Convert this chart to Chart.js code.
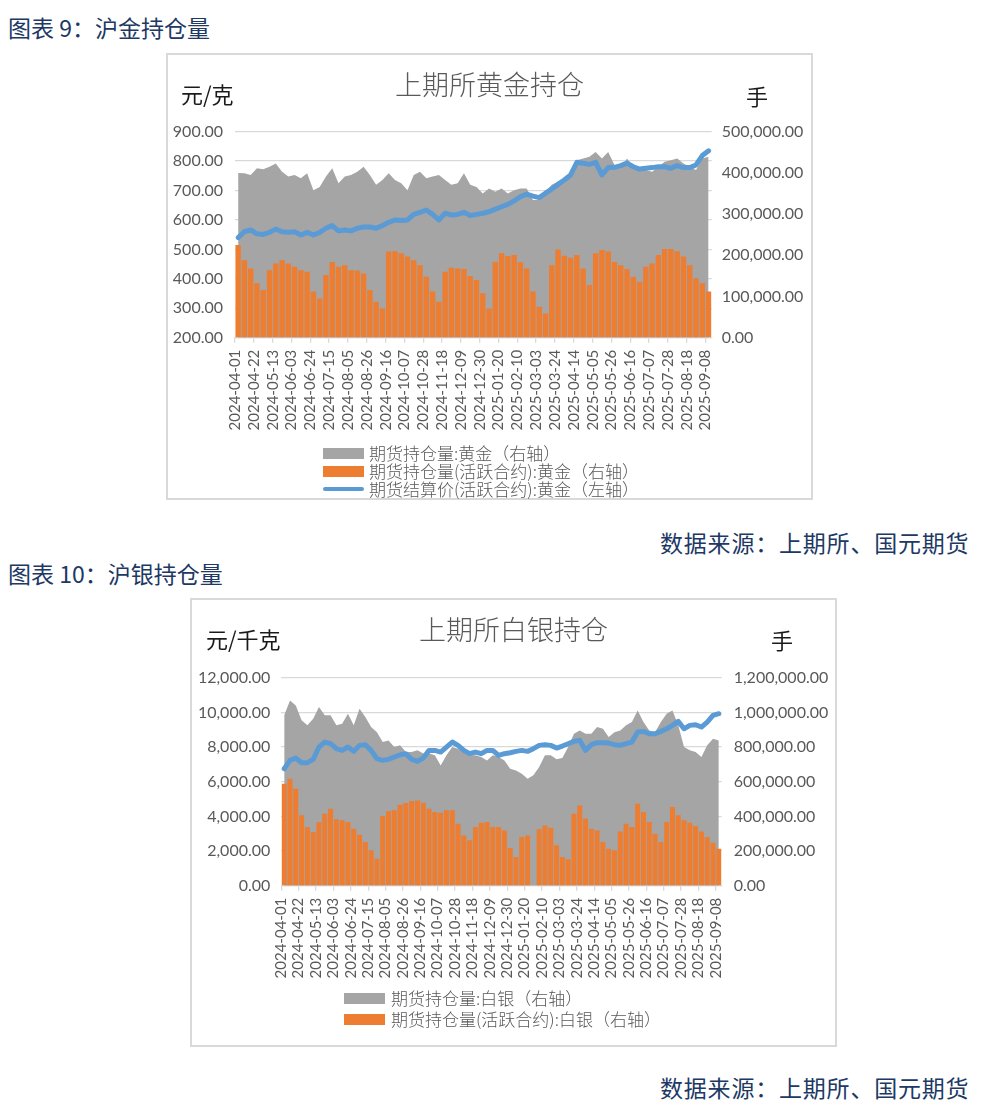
<!DOCTYPE html>
<html lang="zh-CN">
<head>
<meta charset="utf-8">
<title>上期所黄金持仓 / 上期所白银持仓</title>
<script src="https://cdn.jsdelivr.net/npm/chart.js@4.4.1/dist/chart.umd.min.js"></script>
<style>
  html, body { margin: 0; padding: 0; background: #ffffff; }
  body { position: relative; width: 981px; height: 1112px; overflow: hidden; font-family: "Noto Sans CJK SC", sans-serif; }
  .txt { position: absolute; white-space: nowrap; }
  .caption { font-size: 23px; line-height: 23px; color: #203864; }
  .source { font-size: 23px; line-height: 23px; color: #203864; letter-spacing: 0.8px; }
  .unit { font-size: 22px; line-height: 22px; color: #1a1a1a; }
  .frame { position: absolute; box-sizing: border-box; border: 2px solid #d9d9d9; }
  canvas { position: absolute; }
  .lg-text { position: absolute; font-size: 17px; line-height: 18px; color: #595959; white-space: nowrap; font-weight: 300; }
  .lg-box { position: absolute; width: 41px; height: 11px; }
  .lg-line { position: absolute; width: 41px; height: 4px; border-radius: 2px; background: #5b9bd5; }
</style>
</head>
<body>

<div class="txt caption" style="left:8px; top:16px;">图表 9：沪金持仓量</div>
<div class="frame" style="left:166px; top:53px; width:647px; height:447px;"></div>
<canvas id="goldChart" width="647" height="447" style="left:166px; top:53px;"></canvas>
<div class="txt unit" style="left:181px; top:82px;">元/克</div>
<div class="txt unit" style="left:746px; top:84px;">手</div>
<div class="lg-box" style="left:323px; top:448px; background:#a5a5a5;"></div>
<div class="lg-text" style="left:369px; top:444px;">期货持仓量:黄金（右轴）</div>
<div class="lg-box" style="left:323px; top:466px; background:#ed7d31;"></div>
<div class="lg-text" style="left:369px; top:462px;">期货持仓量(活跃合约):黄金（右轴）</div>
<div class="lg-line" style="left:323px; top:487px;"></div>
<div class="lg-text" style="left:369px; top:480px;">期货结算价(活跃合约):黄金（左轴）</div>
<div class="txt source" style="left:660px; top:531px;">数据来源：上期所、国元期货</div>

<div class="txt caption" style="left:8px; top:562px;">图表 10：沪银持仓量</div>
<div class="frame" style="left:190px; top:598px; width:647px; height:449px;"></div>
<canvas id="silverChart" width="647" height="449" style="left:190px; top:598px;"></canvas>
<div class="txt unit" style="left:206px; top:627px;">元/千克</div>
<div class="txt unit" style="left:771px; top:628px;">手</div>
<div class="lg-box" style="left:344px; top:993px; background:#a5a5a5;"></div>
<div class="lg-text" style="left:391px; top:989px;">期货持仓量:白银（右轴）</div>
<div class="lg-box" style="left:344px; top:1014px; background:#ed7d31;"></div>
<div class="lg-text" style="left:391px; top:1010px;">期货持仓量(活跃合约):白银（右轴）</div>
<div class="txt source" style="left:660px; top:1076px;">数据来源：上期所、国元期货</div>

<script>
// one category per trading week (Monday date)
const WEEKS = [
    '2024-04-01', '2024-04-08', '2024-04-15', '2024-04-22', '2024-04-29', '2024-05-06', '2024-05-13', '2024-05-20',
    '2024-05-27', '2024-06-03', '2024-06-10', '2024-06-17', '2024-06-24', '2024-07-01', '2024-07-08', '2024-07-15',
    '2024-07-22', '2024-07-29', '2024-08-05', '2024-08-12', '2024-08-19', '2024-08-26', '2024-09-02', '2024-09-09',
    '2024-09-16', '2024-09-23', '2024-09-30', '2024-10-07', '2024-10-14', '2024-10-21', '2024-10-28', '2024-11-04',
    '2024-11-11', '2024-11-18', '2024-11-25', '2024-12-02', '2024-12-09', '2024-12-16', '2024-12-23', '2024-12-30',
    '2025-01-06', '2025-01-13', '2025-01-20', '2025-01-27', '2025-02-03', '2025-02-10', '2025-02-17', '2025-02-24',
    '2025-03-03', '2025-03-10', '2025-03-17', '2025-03-24', '2025-03-31', '2025-04-07', '2025-04-14', '2025-04-21',
    '2025-04-28', '2025-05-05', '2025-05-12', '2025-05-19', '2025-05-26', '2025-06-02', '2025-06-09', '2025-06-16',
    '2025-06-23', '2025-06-30', '2025-07-07', '2025-07-14', '2025-07-21', '2025-07-28', '2025-08-04', '2025-08-11',
    '2025-08-18', '2025-08-25', '2025-09-01', '2025-09-08'
];

const TICK_LABELS = [
    '2024-04-01', '2024-04-22', '2024-05-13', '2024-06-03', '2024-06-24', '2024-07-15', '2024-08-05', '2024-08-26',
    '2024-09-16', '2024-10-07', '2024-10-28', '2024-11-18', '2024-12-09', '2024-12-30', '2025-01-20', '2025-02-10',
    '2025-03-03', '2025-03-24', '2025-04-14', '2025-05-05', '2025-05-26', '2025-06-16', '2025-07-07', '2025-07-28',
    '2025-08-18', '2025-09-08'
];

// 黄金
const goldTotalOI = [
    400000, 399000, 395000, 411000, 409000, 415000, 423000, 403000, 391000, 395000, 387000, 399000, 358000, 366000,
    391000, 411000, 375000, 391000, 395000, 403000, 415000, 395000, 371000, 383000, 399000, 383000, 375000, 358000,
    395000, 403000, 387000, 391000, 395000, 383000, 371000, 375000, 399000, 371000, 366000, 350000, 362000, 354000,
    362000, 350000, 358000, 362000, 362000, 334000, 334000, 354000, 371000, 379000, 383000, 403000, 431000, 435000,
    439000, 451000, 435000, 451000, 419000, 411000, 435000, 415000, 407000, 407000, 403000, 415000, 427000, 431000,
    435000, 423000, 415000, 407000, 435000, 439000
];
const goldActiveOI = [
    225000, 188000, 168000, 132000, 116000, 164000, 180000, 188000, 180000, 172000, 164000, 160000, 112000, 95000,
    152000, 184000, 172000, 176000, 164000, 163000, 156000, 116000, 87000, 71000, 209000, 210000, 205000, 197000,
    188000, 176000, 148000, 112000, 87000, 160000, 170000, 168000, 167000, 150000, 140000, 108000, 71000, 184000,
    205000, 198000, 201000, 183000, 168000, 112000, 75000, 59000, 176000, 214000, 199000, 194000, 201000, 168000,
    128000, 205000, 213000, 209000, 184000, 176000, 167000, 148000, 136000, 172000, 180000, 201000, 215000, 215000,
    210000, 197000, 176000, 144000, 132000, 112000
];
const goldSettle = [
    540, 560, 566, 553, 551, 558, 569, 560, 558, 560, 549, 558, 549, 558, 572, 581, 563, 566, 563, 572,
    576, 576, 572, 581, 592, 600, 598, 600, 619, 626, 634, 619, 600, 623, 617, 619, 626, 615, 619, 623,
    628, 637, 645, 653, 665, 679, 688, 681, 676, 691, 705, 721, 736, 753, 796, 793, 789, 796, 753, 778,
    779, 785, 793, 781, 773, 776, 778, 781, 781, 776, 785, 778, 778, 787, 819, 835
];

// 白银
const silverTotalOI = [
    983000, 1069000, 1040000, 954000, 925000, 963000, 1031000, 983000, 983000, 925000, 935000, 992000, 925000, 1021000,
    973000, 915000, 886000, 829000, 838000, 800000, 810000, 771000, 771000, 781000, 762000, 762000, 752000, 694000,
    752000, 800000, 790000, 771000, 752000, 752000, 742000, 723000, 752000, 742000, 723000, 675000, 665000, 646000,
    617000, 637000, 685000, 752000, 752000, 729000, 737000, 800000, 877000, 896000, 877000, 877000, 915000, 906000,
    858000, 886000, 896000, 925000, 944000, 1011000, 944000, 896000, 886000, 944000, 992000, 1011000, 925000, 800000,
    781000, 771000, 742000, 810000, 848000, 838000
];
const silverActiveOI = [
    588000, 617000, 560000, 406000, 338000, 310000, 367000, 415000, 444000, 383000, 377000, 367000, 329000, 294000,
    252000, 204000, 156000, 402000, 429000, 435000, 467000, 477000, 488000, 492000, 479000, 444000, 425000, 421000,
    435000, 435000, 358000, 290000, 262000, 338000, 363000, 367000, 338000, 338000, 319000, 217000, 165000, 281000,
    290000, null, 325000, 348000, 335000, 233000, 165000, 152000, 415000, 463000, 387000, 329000, 319000, 252000,
    213000, 204000, 313000, 358000, 338000, 473000, 425000, 367000, 300000, 252000, 367000, 454000, 406000, 377000,
    363000, 344000, 313000, 281000, 248000, 213000
];
const silverSettle = [
    6750, 7230, 7365, 7096, 7096, 7288, 8000, 8288, 8192, 7904, 7807, 8000, 7750, 8096, 8134, 7807, 7327, 7230, 7288,
    7423, 7557, 7615, 7288, 7173, 7365, 7807, 7807, 7711, 8000, 8288, 8096, 7807, 7615, 7711, 7615, 7807, 7807, 7519,
    7615, 7673, 7750, 7807, 7750, 7904, 8096, 8134, 8096, 7942, 8057, 8192, 8327, 8384, 7807, 8134, 8250, 8250, 8230,
    8134, 8096, 8192, 8288, 8865, 8903, 8769, 8769, 8903, 9057, 9250, 9480, 9057, 9250, 9288, 9153, 9442, 9827, 9923
];

const GRAY = '#a5a5a5';
const ORANGE = '#ed7d31';
const BLUE = '#5b9bd5';
const GRID = '#d9d9d9';
const TEXT = '#595959';
const CJK_FONT = '"Noto Sans CJK SC", sans-serif';
const NUM_FONT = 'Lato, "Liberation Sans", sans-serif';

function formatTick(value) {
    return Number(value).toLocaleString('en-US', { minimumFractionDigits: 2, maximumFractionDigits: 2 });
}

function buildChart(canvasId, cfg) {
    const canvas = document.getElementById(canvasId);
    return new Chart(canvas, {
        data: {
            labels: WEEKS,
            datasets: [
                {
                    type: 'line',
                    label: cfg.totalLabel,
                    data: cfg.total,
                    yAxisID: 'y1',
                    order: 3,
                    fill: 'origin',
                    backgroundColor: GRAY,
                    borderWidth: 0,
                    pointRadius: 0,
                    tension: 0
                },
                {
                    type: 'bar',
                    label: cfg.activeLabel,
                    data: cfg.active,
                    yAxisID: 'y1',
                    order: 2,
                    backgroundColor: ORANGE,
                    barPercentage: 0.86,
                    categoryPercentage: 1
                },
                {
                    type: 'line',
                    label: cfg.priceLabel,
                    data: cfg.price,
                    yAxisID: 'y',
                    order: 1,
                    fill: false,
                    borderColor: BLUE,
                    borderWidth: 5,
                    borderJoinStyle: 'round',
                    borderCapStyle: 'round',
                    pointRadius: 0,
                    tension: 0
                }
            ]
        },
        options: {
            responsive: false,
            animation: false,
            events: [],
            layout: { padding: { left: 0, right: 0, top: 0, bottom: cfg.padBottom } },
            plugins: {
                legend: { display: false },
                tooltip: { enabled: false },
                title: {
                    display: true,
                    text: cfg.title,
                    color: TEXT,
                    font: { family: CJK_FONT, size: 27, weight: '300', lineHeight: 1.2 },
                    padding: { top: 16, bottom: cfg.titleGap }
                }
            },
            scales: {
                x: {
                    type: 'category',
                    offset: true,
                    grid: {
                        offset: true,
                        drawOnChartArea: false,
                        drawTicks: true,
                        tickLength: 5,
                        lineWidth: 1.3,
                        color: (ctx) => (ctx.index % 3 === 0 ? GRID : 'rgba(0,0,0,0)')
                    },
                    border: { color: GRID, width: 1.3 },
                    ticks: {
                        autoSkip: false,
                        minRotation: 90,
                        maxRotation: 90,
                        padding: 7,
                        labelOffset: -3,
                        color: TEXT,
                        font: { family: NUM_FONT, size: 15 },
                        callback: (value, index) => (TICK_LABELS.includes(WEEKS[index]) ? WEEKS[index] : '')
                    },
                    afterFit: (scale) => { scale.height = 100; }
                },
                y: {
                    position: 'left',
                    min: cfg.leftMin,
                    max: cfg.leftMax,
                    ticks: {
                        stepSize: cfg.leftStep,
                        padding: cfg.leftPad,
                        color: TEXT,
                        font: { family: NUM_FONT, size: 16 },
                        callback: formatTick
                    },
                    grid: { color: GRID, lineWidth: 1.3, drawTicks: false },
                    border: { display: false },
                    afterFit: (scale) => { scale.width = cfg.leftWidth; }
                },
                y1: {
                    position: 'right',
                    min: 0,
                    max: cfg.rightMax,
                    ticks: {
                        stepSize: cfg.rightStep,
                        padding: cfg.rightPad,
                        color: TEXT,
                        font: { family: NUM_FONT, size: 16 },
                        callback: formatTick
                    },
                    grid: { drawOnChartArea: false, drawTicks: false },
                    border: { display: false },
                    afterFit: (scale) => { scale.width = cfg.rightWidth; }
                }
            }
        }
    });
}

buildChart('goldChart', {
    title: '上期所黄金持仓',
    totalLabel: '期货持仓量:黄金（右轴）',
    activeLabel: '期货持仓量(活跃合约):黄金（右轴）',
    priceLabel: '期货结算价(活跃合约):黄金（左轴）',
    total: goldTotalOI,
    active: goldActiveOI,
    price: goldSettle,
    leftMin: 200,
    leftMax: 900,
    leftStep: 100,
    rightMax: 500000,
    rightStep: 50000,
    leftWidth: 69,
    rightWidth: 101.3,
    leftPad: 12,
    rightPad: 10,
    titleGap: 30.3,
    padBottom: 62.3
});

buildChart('silverChart', {
    title: '上期所白银持仓',
    totalLabel: '期货持仓量:白银（右轴）',
    activeLabel: '期货持仓量(活跃合约):白银（右轴）',
    priceLabel: '期货结算价(活跃合约):白银（左轴）',
    total: silverTotalOI,
    active: silverActiveOI,
    price: silverSettle,
    leftMin: 0,
    leftMax: 12000,
    leftStep: 2000,
    rightMax: 1200000,
    rightStep: 200000,
    leftWidth: 91.3,
    rightWidth: 115.3,
    leftPad: 11,
    rightPad: 12,
    titleGap: 31.3,
    padBottom: 61.3
});
</script>
</body>
</html>
